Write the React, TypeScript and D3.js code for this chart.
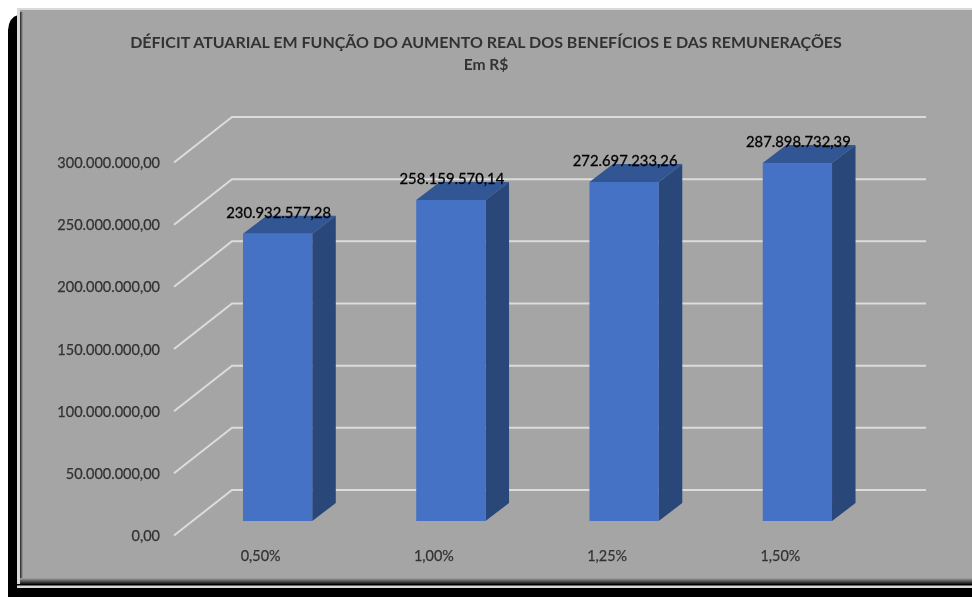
import React from "react";
import * as d3 from "d3";

const categories = ["0,50%", "1,00%", "1,25%", "1,50%"];
const values = [230932577.28, 258159570.14, 272697233.26, 287898732.39];
const valueLabels = ["230.932.577,28", "258.159.570,14", "272.697.233,26", "287.898.732,39"];
const ticks = [0, 50000000, 100000000, 150000000, 200000000, 250000000, 300000000];
const tickLabels = ["0,00", "50.000.000,00", "100.000.000,00", "150.000.000,00", "200.000.000,00", "250.000.000,00", "300.000.000,00"];
const title = "DÉFICIT ATUARIAL EM FUNÇÃO DO AUMENTO REAL DOS BENEFÍCIOS E DAS REMUNERAÇÕES";
const subtitle = "Em R$";

const FONT = "Lato, 'Open Sans', sans-serif";
const W = 972, H = 597;

export default function App() {
  // front plane of the 3D box
  const y = d3.scaleLinear().domain([0, 300000000]).range([521, 148]);
  const x = d3.scaleBand().domain(categories).range([191, 884]).paddingInner(0.6).paddingOuter(0.3);
  const depthX = 23.5, depthY = -18;
  // floor/back wall offset relative to the front of the bars
  const backLeft = 232, backRight = 926, wallLeft = 174;
  const wallDy = -31;   // back wall y offset from scale y
  const frontDy = 14.5; // axis front y offset from scale y
  return (
    <svg width={W} height={H} style={{ position: "absolute", left: 0, top: 0, display: "block" }}>
      <defs>
        <filter id="soft" x="-5%" y="-5%" width="110%" height="110%">
          <feGaussianBlur stdDeviation="0.4" />
        </filter>
        <linearGradient id="bot" x1="0" x2="0" y1="0" y2="1">
          <stop offset="0" stopColor="#a5a5a5" />
          <stop offset="1" stopColor="#111" />
        </linearGradient>
        <linearGradient id="lft" x1="0" x2="1" y1="0" y2="0">
          <stop offset="0" stopColor="#222" />
          <stop offset="1" stopColor="#a5a5a5" />
        </linearGradient>
      </defs>
      <rect width={W} height={H} fill="#fff" />
      <path d="M8,30 Q9,17 18,15 L18,597 L10,597 L8,590 Z" fill="#000" />
      <rect x={8} y={588} width={964} height={9} fill="#000" />
      <rect x={17} y={8} width={955} height={580} fill="#d9d9d9" />
      <rect x={20} y={10} width={952} height={575} fill="#a5a5a5" />
      <rect x={20} y={12} width={3} height={570} fill="url(#lft)" />
      <rect x={20} y={578} width={952} height={6} fill="url(#bot)" />
      <rect x={17} y={584} width={955} height={1.5} fill="#000" />
      <g filter="url(#soft)">
        <text x={486} y={48} textAnchor="middle" fontFamily={FONT} fontSize={16} fontWeight={700} fill="#333">{title}</text>
        <text x={486} y={70} textAnchor="middle" fontFamily={FONT} fontSize={15.6} fontWeight={700} fill="#333">{subtitle}</text>
        {ticks.map((t, i) => (
          <g key={t}>
            <polyline
              points={`${wallLeft},${y(t) + frontDy} ${backLeft},${y(t) + wallDy} ${backRight},${y(t) + wallDy}`}
              fill="none" stroke="#dcdcdc" strokeWidth={2} />
            <text x={160} y={y(t) + frontDy + 5.5} textAnchor="end" fontFamily={FONT} fontSize={14.5} fill="#333" stroke="#333" strokeWidth={0.25}>{tickLabels[i]}</text>
          </g>
        ))}
        {categories.map((c, i) => {
          const x0 = x(c)!, x1 = x0 + x.bandwidth(), yT = y(values[i]), yB = y(0);
          return (
            <g key={c}>
              <path d={`M${x1},${yT} L${x1 + depthX},${yT + depthY} L${x1 + depthX},${yB + depthY} L${x1},${yB} Z`} fill="#2a4679" />
              <path d={`M${x0},${yT} L${x0 + depthX},${yT + depthY} L${x1 + depthX},${yT + depthY} L${x1},${yT} Z`} fill="#335593" />
              <rect x={x0} y={yT} width={x.bandwidth()} height={yB - yT} fill="#4472c4" />
            </g>
          );
        })}
        {categories.map((c, i) => (
          <g key={c}>
            <text x={x(c)! + x.bandwidth() / 2 + 1} y={y(values[i]) - 16} textAnchor="middle" fontFamily={FONT} fontSize={14.8} fill="#000" stroke="#000" strokeWidth={0.3}>{valueLabels[i]}</text>
            <text x={x(c)! + x.bandwidth() / 2 - 17} y={561} textAnchor="middle" fontFamily={FONT} fontSize={14.4} fill="#333" stroke="#333" strokeWidth={0.25}>{c}</text>
          </g>
        ))}
      </g>
    </svg>
  );
}
